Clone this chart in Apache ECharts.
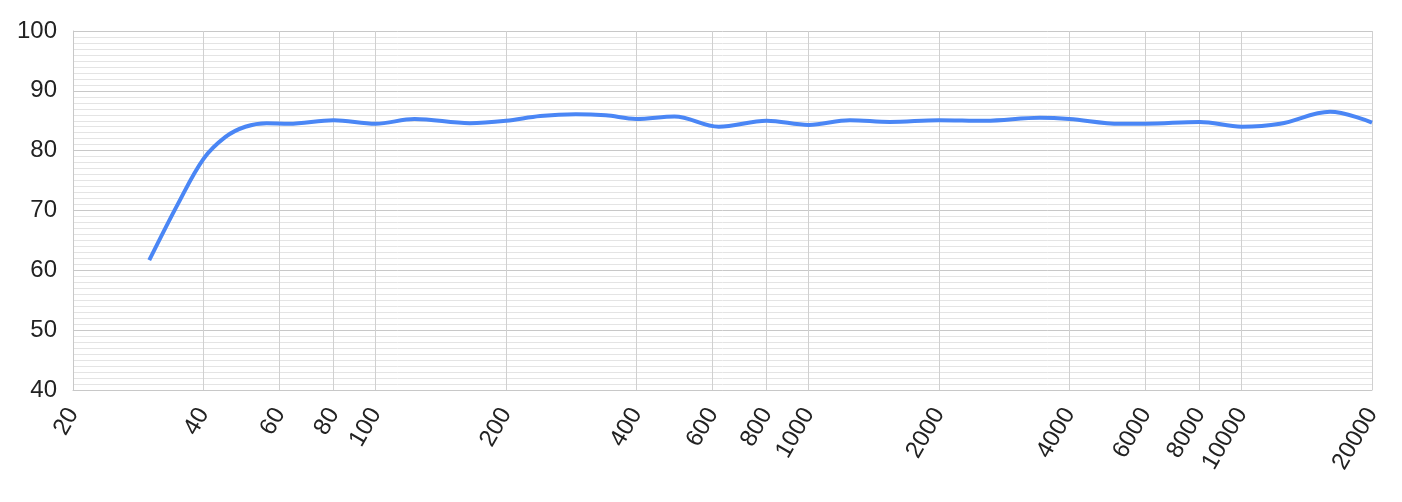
<!DOCTYPE html>
<html>
<head>
<meta charset="utf-8">
<script src="https://cdn.jsdelivr.net/npm/echarts@6/dist/echarts.min.js"></script>
<style>
  html, body { margin: 0; padding: 0; background: #fff; }
  #chart { width: 1402px; height: 502px; }
</style>
</head>
<body>
<div id="chart"></div>
<script>
// 频率 (Hz) 与声压级 (dB)
var freqs = [30, 35, 40, 45, 50, 56, 63, 80, 100, 123, 165, 200, 240, 290, 340, 400, 490, 620, 800, 1000, 1245, 1540, 2000, 2555, 3420, 4000, 5240, 6000, 8000, 10000, 12270, 16000, 20000];
var spl = [61.7, 71.2, 78.6, 82.3, 84.0, 84.6, 84.5, 85.1, 84.5, 85.3, 84.6, 85.0, 85.8, 86.1, 85.9, 85.3, 85.7, 84.0, 85.0, 84.3, 85.1, 84.8, 85.1, 85.0, 85.5, 85.3, 84.5, 84.5, 84.8, 84.0, 84.5, 86.5, 84.7];
var xTicks = [20, 40, 60, 80, 100, 200, 400, 600, 800, 1000, 2000, 4000, 6000, 8000, 10000, 20000];

var chart = echarts.init(document.getElementById("chart"));
chart.setOption({
  animation: false,
  grid: { left: 73, right: 30, top: 31, bottom: 112 },
  xAxis: {
    type: "log",
    logBase: 10,
    min: 20,
    max: 20000,
    axisLine: { show: true, lineStyle: { color: "#c8c8c8" } },
    axisTick: { show: false, customValues: xTicks },
    axisLabel: {
      customValues: xTicks,
      rotate: 60,
      fontFamily: "Liberation Sans",
      fontSize: 24,
      color: "#222",
      margin: 20,
      formatter: function (v) { return String(v); },
    },
    splitLine: { show: true, lineStyle: { color: "#d0d0d0", width: 1 } },
  },
  yAxis: {
    type: "value",
    min: 40,
    max: 100,
    interval: 10,
    axisLine: { show: true, lineStyle: { color: "#c8c8c8" } },
    axisTick: { show: false },
    axisLabel: {
      fontFamily: "Liberation Sans",
      fontSize: 24,
      color: "#222",
      margin: 16,
    },
    splitLine: { show: true, lineStyle: { color: "#c8c8c8", width: 1 } },
    minorTick: { show: false, splitNumber: 10 },
    minorSplitLine: { show: true, lineStyle: { color: "#e4e4e4", width: 1 } },
  },
  series: [
    {
      type: "line",
      data: freqs.map(function (f, i) { return [f, spl[i]]; }),
      smooth: 0.35,
      showSymbol: false,
      lineStyle: { color: "#4a86f5", width: 4 },
    },
  ],
});
</script>
</body>
</html>
